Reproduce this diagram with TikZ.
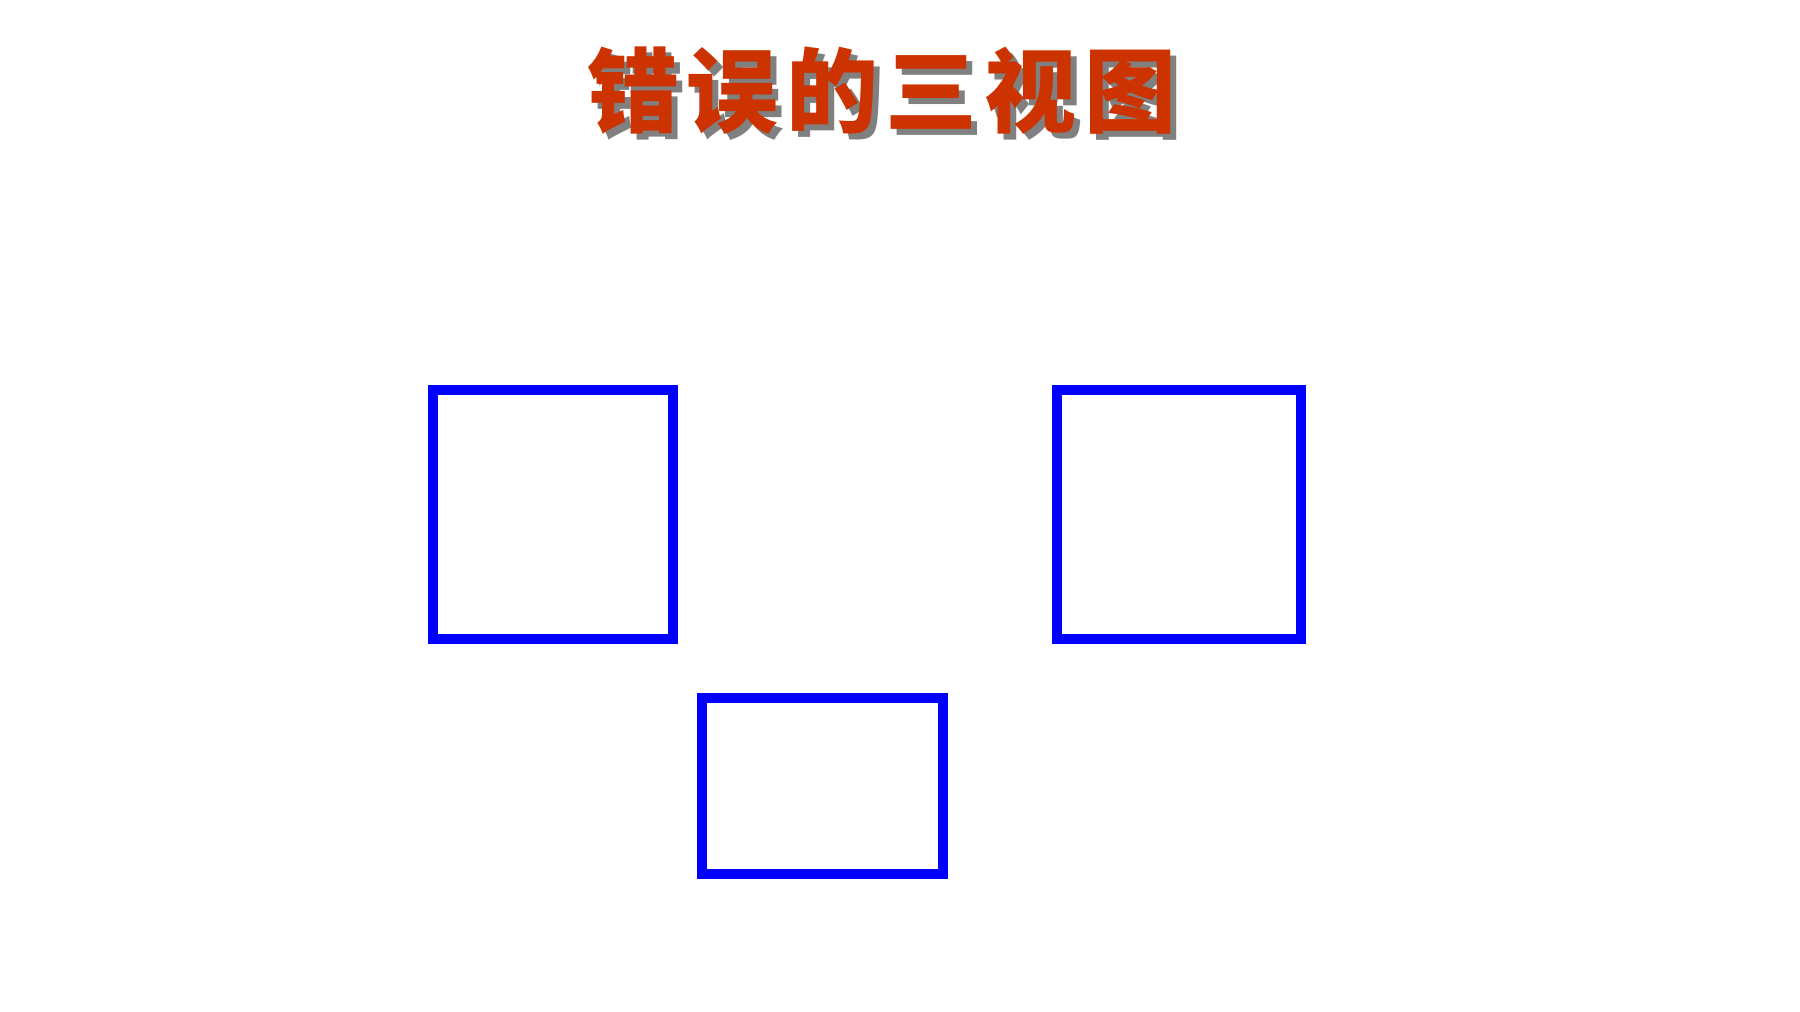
\documentclass[tikz,border=0pt]{standalone}
\usepackage{fontspec}
\usepackage{xcolor}
\usepackage{tikz}
\usetikzlibrary{positioning}
\newfontfamily\cjk{Noto Sans CJK SC}[LetterSpace=8]
\definecolor{titlered}{RGB}{204,51,0}
\definecolor{shadowgray}{RGB}{128,128,128}

\begin{document}
\begin{tikzpicture}[
    x=0.5pt, y=-0.5pt,
    view/.style={rectangle, draw=blue, line width=5pt, inner sep=0pt, outer sep=0pt},
    titletext/.style={font=\cjk\bfseries\fontsize{46pt}{50pt}\selectfont, inner sep=0pt}
]
\useasboundingbox (0,0) rectangle (1800,1012);

% Title with shadow
\node[titletext, text=shadowgray] (titleshadow) at (888,97) {错误的三视图};
\node[titletext, text=titlered] (title) at (882,91) {错误的三视图};

% Views
\node[view, minimum width=120pt, minimum height=124.5pt] (front) at (553,514.5) {};
\node[view, minimum width=122pt, minimum height=124.5pt] (side) at (1179,514.5) {};
\node[view, minimum width=120.5pt, minimum height=88pt] (top) at (822.5,786) {};

\end{tikzpicture}
\end{document}
